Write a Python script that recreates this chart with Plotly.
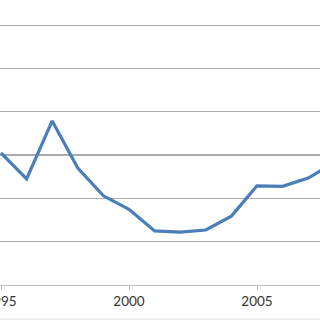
import plotly.graph_objects as go

years = [1995, 1996, 1997, 1998, 1999, 2000, 2001, 2002, 2003, 2004, 2005, 2006, 2007, 2008]
values = [3.05, 2.45, 3.79, 2.70, 2.06, 1.75, 1.25, 1.22, 1.27, 1.59, 2.29, 2.28, 2.47, 2.82]
tick_years = [1995, 2000, 2005]
tick_text = ["1995", "2000", "2005"]

px_per_year = 25.6
fig = go.Figure()
fig.add_trace(go.Scatter(x=years, y=values, mode="lines",
                         line=dict(color="#4a7ebb", width=3.2), showlegend=False,
                         hoverinfo="skip"))

fig.update_layout(
    width=320, height=320,
    margin=dict(l=0, r=0, t=0, b=35),
    paper_bgcolor="white", plot_bgcolor="white",
    xaxis=dict(range=[1995 - 1 / px_per_year, 1995 + 319 / px_per_year],
               tickvals=tick_years, ticktext=tick_text,
               showgrid=False, zeroline=False,
               showline=True, linecolor="#bfbfbf", linewidth=1,
               ticks="outside", ticklen=4, tickcolor="#bfbfbf",
               tickfont=dict(family="Lato", size=13.5, color="#333333"),
               ticklabeloverflow="allow",
               automargin=False),
    yaxis=dict(range=[0, 285 / 43.3], dtick=1, showticklabels=False,
               showgrid=True, gridcolor="#aaaaaa", gridwidth=1.3,
               zeroline=False, automargin=False),
    shapes=[dict(type="rect", xref="paper", yref="paper", x0=0, x1=1,
                 y0=-(318 - 285) / 285, y1=-(320 - 285) / 285 - 0.01,
                 fillcolor="#eeeeee", line=dict(width=0), layer="below")],
)
fig.write_html("out.html", config={"displayModeBar": False, "staticPlot": True},
               post_script="document.body.style.margin='0';document.body.style.overflow='hidden';")
